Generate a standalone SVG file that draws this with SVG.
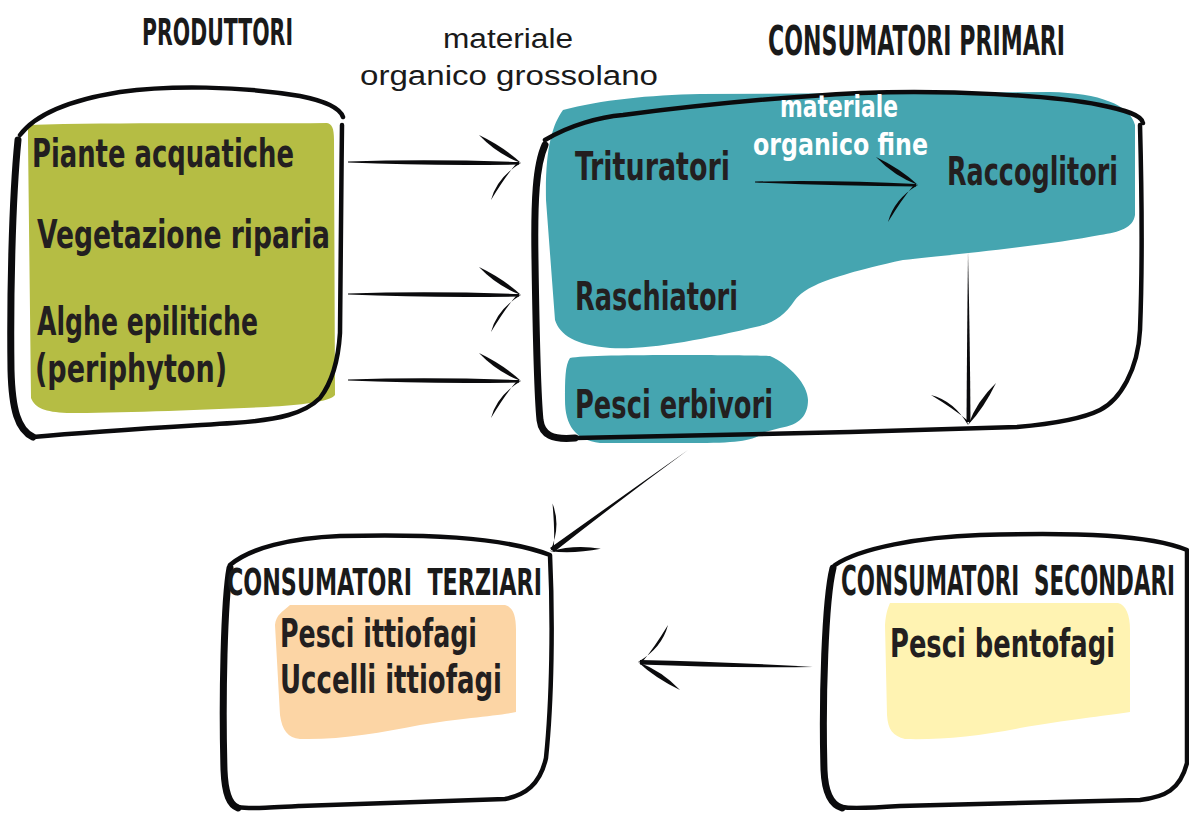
<svg xmlns="http://www.w3.org/2000/svg" width="1189" height="814" viewBox="0 0 1189 814">
  <style>
    .lbl { font-family: "Liberation Sans Narrow", "DejaVu Sans Condensed", "Liberation Sans", sans-serif; font-weight: bold; fill: #231f20; }
    .ttl { font-family: "Liberation Sans Narrow", "DejaVu Sans Condensed", "Liberation Sans", sans-serif; font-weight: bold; fill: #1a1a1a; font-size: 25px; }
    .wht { font-family: "Liberation Sans Narrow", "DejaVu Sans Condensed", "Liberation Sans", sans-serif; font-weight: bold; fill: #ffffff; }
    .thin { font-family: "Liberation Sans", "DejaVu Sans", sans-serif; font-weight: normal; fill: #1a1a1a; }
    .ol { fill: none; stroke: #0b0b0d; stroke-width: 4.5; stroke-linecap: round; stroke-linejoin: round; }
    .olk { fill: none; stroke: #0b0b0d; stroke-width: 7; stroke-linecap: round; }
    .ink { fill: #0b0b0d; }
  </style>
  <defs>
    <!-- brush-style arrowhead, tip at the origin, pointing along +x -->
    <g id="head">
      <path class="ink" d="M-40,-28 Q-15,-16 2,0 Q-22,-9 -40,-28 Z"/>
      <path class="ink" d="M2,0 Q-22,14 -28,37 Q-14,14 -3,1 Z"/>
    </g>
  </defs>

  <rect width="1189" height="814" fill="#ffffff"/>

  <!-- column titles (tall, narrow lettering) and free labels -->
  <text class="ttl" transform="translate(142,45) scale(1,1.5)" textLength="151" lengthAdjust="spacingAndGlyphs">PRODUTTORI</text>
  <text class="ttl" transform="translate(768,55) scale(1,1.62)" textLength="297" lengthAdjust="spacingAndGlyphs">CONSUMATORI PRIMARI</text>
  <text class="thin" x="443" y="48" font-size="27" textLength="130" lengthAdjust="spacingAndGlyphs">materiale</text>
  <text class="thin" x="360" y="85" font-size="27" textLength="298" lengthAdjust="spacingAndGlyphs">organico grossolano</text>

  <!-- Produttori -->
  <g id="produttori">
    <path fill="#b5bd44" d="M28,125 C120,122 240,124 327,123 C332,124 334,128 334,140 L335,395 C330,402 300,405 267,407 C200,410 120,413 67,413 C45,412 35,408 31,398 L28,140 Z"/>
    <path class="ol" d="M20,135 C35,115 70,100 120,92 C170,85 240,86 300,96 C325,101 340,108 343,117"/>
    <path class="ol" d="M342,125 C341,200 341,280 340,333 C338,365 330,385 320,398 C305,413 280,420 233,423 C170,427 100,431 33,437"/>
    <path class="olk" d="M18,140 C12,200 10,300 11,370 C12,410 18,430 33,437"/>
    <text class="lbl" x="32" y="167" font-size="39" textLength="262" lengthAdjust="spacingAndGlyphs">Piante acquatiche</text>
    <text class="lbl" x="37" y="248" font-size="39" textLength="293" lengthAdjust="spacingAndGlyphs">Vegetazione riparia</text>
    <text class="lbl" x="37" y="335" font-size="39" textLength="221" lengthAdjust="spacingAndGlyphs">Alghe epilitiche</text>
    <text class="lbl" x="35" y="382" font-size="39" textLength="192" lengthAdjust="spacingAndGlyphs">(periphyton)</text>
  </g>

  <!-- Consumatori primari -->
  <g id="consumatori-primari">
    <path fill="#45a5b0" d="M563,110 C600,100 650,95 700,94 L1050,92 C1100,93 1130,105 1135,125 L1135,215 C1133,228 1120,232 1100,235 C1050,245 950,255 903,260 C880,265 860,270 850,273 C820,282 805,288 795,300 C785,315 775,322 760,326 C700,340 650,350 610,348 C575,345 560,335 555,320 L546,200 C545,150 552,125 563,110 Z"/>
    <path fill="#45a5b0" d="M570,358 C590,354 740,355 770,356 C790,365 808,385 808,400 C808,415 800,425 780,428 L765,432 C755,440 740,443 700,443 L600,443 C575,440 565,425 565,400 C565,380 565,365 570,358 Z"/>
    <path class="ol" d="M545,140 C570,125 600,117 623,115 C700,105 780,97 860,93 C950,90 1050,95 1100,105 C1125,110 1142,115 1143,123"/>
    <path class="ol" d="M1140,125 C1142,200 1142,280 1140,330 C1138,370 1120,400 1100,410 C1080,420 1040,425 1017,427 L850,432 L575,438"/>
    <path class="olk" d="M545,145 C536,165 534,200 535,260 C536,330 537,390 540,420 C542,435 552,440 575,438"/>
    <text class="lbl" x="575" y="180" font-size="39" textLength="155" lengthAdjust="spacingAndGlyphs">Trituratori</text>
    <text class="lbl" transform="translate(947,185) scale(1,1.3)" font-size="30" textLength="171" lengthAdjust="spacingAndGlyphs">Raccoglitori</text>
    <text class="lbl" x="575" y="310" font-size="39" textLength="163" lengthAdjust="spacingAndGlyphs">Raschiatori</text>
    <text class="lbl" x="575" y="418" font-size="39" textLength="198" lengthAdjust="spacingAndGlyphs">Pesci erbivori</text>
    <text class="wht" x="780" y="117" font-size="30" textLength="118" lengthAdjust="spacingAndGlyphs">materiale</text>
    <text class="wht" x="753" y="155" font-size="30" textLength="175" lengthAdjust="spacingAndGlyphs">organico fine</text>
  </g>

  <!-- Consumatori terziari -->
  <g id="consumatori-terziari">
    <path fill="#fcd5a5" d="M290,605 L505,605 C513,607 516,615 516,630 L516,712 C498,716 460,718 420,725 C380,733 340,740 300,739 C288,738 282,730 280,715 L275,625 C276,615 282,612 290,605 Z"/>
    <path class="ol" d="M230,565 C250,548 290,538 340,536 C420,534 500,536 550,555 C553,620 552,700 546,758 C540,785 525,795 505,799 L300,806 C265,808 248,809 238,807"/>
    <path class="olk" d="M230,568 C224,600 222,700 224,770 C225,795 230,805 238,808"/>
    <text class="ttl" xml:space="preserve" transform="translate(227,595) scale(1,1.52)" textLength="315" lengthAdjust="spacingAndGlyphs">CONSUMATORI  TERZIARI</text>
    <text class="lbl" x="280" y="647" font-size="39" textLength="197" lengthAdjust="spacingAndGlyphs">Pesci ittiofagi</text>
    <text class="lbl" x="280" y="693" font-size="39" textLength="222" lengthAdjust="spacingAndGlyphs">Uccelli ittiofagi</text>
  </g>

  <!-- Consumatori secondari -->
  <g id="consumatori-secondari">
    <path fill="#fff3b2" d="M890,603 L1118,603 C1126,605 1130,615 1130,630 L1130,712 C1105,716 1065,720 1020,728 C980,736 940,740 905,739 C893,736 888,730 887,715 L885,625 C886,612 888,608 890,603 Z"/>
    <path class="ol" d="M835,565 C860,548 920,537 980,535 C1080,532 1150,535 1187,550 L1187,763 C1180,790 1165,797 1140,800 L900,806 C870,808 852,809 842,807"/>
    <path class="olk" d="M833,568 C825,600 822,700 824,770 C825,795 832,805 842,808"/>
    <text class="ttl" xml:space="preserve" transform="translate(841,595) scale(1,1.6)" font-size="24" textLength="334" lengthAdjust="spacingAndGlyphs">CONSUMATORI  SECONDARI</text>
    <text class="lbl" transform="translate(890,657) scale(1,1.3)" font-size="30" textLength="225" lengthAdjust="spacingAndGlyphs">Pesci bentofagi</text>
  </g>

  <!-- connectors -->
  <g id="connectors">
    <path class="ink" d="M348,161.5 Q430,159 519,162 L519,164.5 Q430,166 348,162.5 Z"/>
    <use href="#head" transform="translate(519,163)"/>
    <path class="ink" d="M348,293.5 Q430,291 519,294 L519,296.5 Q430,298 348,294.5 Z"/>
    <use href="#head" transform="translate(519,295)"/>
    <path class="ink" d="M348,379.5 Q430,377 519,380 L519,382.5 Q430,384 348,380.5 Z"/>
    <use href="#head" transform="translate(519,381)"/>

    <path class="ink" d="M755,181.5 Q840,180 916,184 L916,186.5 Q840,186 755,182.5 Z"/>
    <use href="#head" transform="translate(916,185)"/>

    <path class="ink" d="M968,252 Q970,340 970.5,422 L966.5,422 Q967,340 968,252 Z"/>
    <use href="#head" transform="translate(968,423) rotate(90)"/>

    <path class="ink" d="M688,450 Q620,500 554,552 L550,548 Q620,498 688,450 Z"/>
    <use href="#head" transform="translate(552,550) rotate(143.5)"/>

    <path class="ink" d="M813,667 Q730,668 640,664.5 L640,660 Q730,662 813,667 Z"/>
    <use href="#head" transform="translate(640,662) rotate(180)"/>
  </g>
</svg>
